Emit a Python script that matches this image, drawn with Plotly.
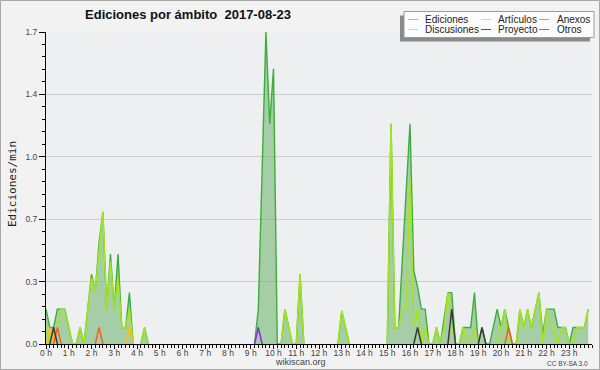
import plotly.graph_objects as go

# ---------------- data (10-minute steps, values in edits/min) ----------------
minutes = list(range(0, 1440, 10))

ediciones = [
    0.19, 0.09, 0.09, 0.19, 0.19, 0.19,   # 0 h
    0.09, 0, 0, 0.09, 0, 0.19,            # 1 h
    0.38, 0.29, 0.55, 0.72, 0.19, 0.49,   # 2 h
    0.19, 0.49, 0.09, 0.09, 0.28, 0,      # 3 h
    0, 0, 0.09, 0, 0, 0,                  # 4 h
    0, 0, 0, 0, 0, 0,                     # 5 h
    0, 0, 0, 0, 0, 0,                     # 6 h
    0, 0, 0, 0, 0, 0,                     # 7 h
    0, 0, 0, 0, 0, 0,                     # 8 h
    0, 0, 0.19, 0.95, 1.7, 1.2,           # 9 h
    1.5, 0, 0, 0.19, 0.09, 0,             # 10 h
    0, 0.38, 0, 0, 0, 0,                  # 11 h
    0, 0, 0, 0, 0, 0,                     # 12 h
    0.18, 0.09, 0, 0, 0, 0,               # 13 h
    0, 0, 0, 0, 0, 0,                     # 14 h
    0, 1.2, 0.09, 0.09, 0.47, 0.85,       # 15 h
    1.2, 0.4, 0.31, 0.19, 0.19, 0,        # 16 h
    0, 0.09, 0, 0.14, 0.28, 0.28,         # 17 h
    0, 0, 0.09, 0.09, 0.09, 0.28,         # 18 h
    0, 0.09, 0, 0, 0.09, 0.19,            # 19 h
    0.09, 0.19, 0.09, 0, 0, 0.19,         # 20 h
    0.09, 0.19, 0.09, 0.19, 0.28, 0.05,   # 21 h
    0.19, 0.19, 0.19, 0.09, 0.09, 0.09,   # 22 h
    0, 0.09, 0.09, 0.09, 0.09, 0.19,      # 23 h
]

articulos = [
    0.09, 0, 0, 0.09, 0.19, 0.19,
    0.09, 0, 0, 0.09, 0, 0.19,
    0.36, 0.29, 0.5, 0.72, 0.19, 0.45,
    0.19, 0.36, 0.09, 0.09, 0.19, 0,
    0, 0, 0.09, 0, 0, 0,
    0, 0, 0, 0, 0, 0,
    0, 0, 0, 0, 0, 0,
    0, 0, 0, 0, 0, 0,
    0, 0, 0, 0, 0, 0,
    0, 0, 0, 0, 0, 0,
    0, 0, 0, 0.19, 0.09, 0,
    0, 0.38, 0, 0, 0, 0,
    0, 0, 0, 0, 0, 0,
    0.18, 0.09, 0, 0, 0, 0,
    0, 0, 0, 0, 0, 0,
    0, 1.2, 0.09, 0.09, 0.19, 0.19,
    0.9, 0.09, 0.19, 0, 0.09, 0,
    0, 0.09, 0, 0.09, 0.28, 0.09,
    0, 0, 0.09, 0, 0, 0.09,
    0, 0, 0, 0, 0, 0,
    0.09, 0.19, 0, 0, 0, 0.19,
    0.09, 0.19, 0.09, 0.19, 0.28, 0,
    0.19, 0.09, 0.09, 0, 0.09, 0.09,
    0, 0, 0.09, 0.09, 0.09, 0.19,
]

# sparse small series: {10-minute index: value}
discusiones = {1: 0.09, 22: 0.09}
anexos = {3: 0.09, 14: 0.09, 122: 0.09}
proyecto = {2: 0.09, 98: 0.09, 107: 0.19, 115: 0.09}
otros = {56: 0.09}

series_names = ["Ediciones", "Artículos", "Anexos", "Discusiones", "Proyecto", "Otros"]
series_colors = {
    "Ediciones": "#3cae3c",
    "Artículos": "#a4e619",
    "Anexos": "#f0621e",
    "Discusiones": "#f2c318",
    "Proyecto": "#3a3a3a",
    "Otros": "#8a2be8",
}
legend_colors = {
    "Ediciones": "#86d686",
    "Artículos": "#c8f060",
    "Anexos": "#f58a58",
    "Discusiones": "#f7d64a",
    "Proyecto": "#555555",
    "Otros": "#9a55f0",
}

hour_ticks = [0, 60, 120, 180, 240, 300, 360, 420, 480, 540, 600, 660,
              720, 780, 840, 900, 960, 1020, 1080, 1140, 1200, 1260, 1320, 1380]
hour_labels = ["0 h", "1 h", "2 h", "3 h", "4 h", "5 h", "6 h", "7 h", "8 h", "9 h",
               "10 h", "11 h", "12 h", "13 h", "14 h", "15 h", "16 h", "17 h", "18 h",
               "19 h", "20 h", "21 h", "22 h", "23 h"]
y_ticks = [0, 0.34, 0.68, 1.02, 1.36, 1.7]
y_labels = ["0.0", "0.3", "0.7", "1.0", "1.4", "1.7"]

# ---------------- helpers ----------------
n = len(minutes)


def dense(sparse):
    return [sparse.get(i, 0) for i in range(n)]


def masked(vals):
    # hide long runs lying on the zero baseline (keep zero ends of each peak)
    out = []
    for i, v in enumerate(vals):
        left = vals[i - 1] if i > 0 else 0
        right = vals[i + 1] if i < n - 1 else 0
        out.append(None if (v == 0 and left == 0 and right == 0) else v)
    return out


W, H = 600, 370
ML, MR, MT, MB = 46, 8, 32, 26
PW, PH = W - ML - MR, H - MT - MB


def px(x):
    return (x - ML) / PW


def py(y):
    return (H - MB - y) / PH


SANS = "Liberation Sans, Arial, sans-serif"

fig = go.Figure()

fig.add_trace(go.Scatter(
    x=minutes, y=masked(ediciones), mode="lines", name="Ediciones",
    line=dict(color=series_colors["Ediciones"], width=1.4),
    fill="tozeroy", fillcolor="rgba(120,185,120,0.62)", showlegend=False,
    hoverinfo="skip"))

for name, vals in [("Artículos", articulos), ("Discusiones", dense(discusiones)),
                   ("Anexos", dense(anexos)), ("Proyecto", dense(proyecto)),
                   ("Otros", dense(otros))]:
    fig.add_trace(go.Scatter(
        x=minutes, y=masked(vals), mode="lines", name=name,
        line=dict(color=series_colors[name], width=1.5),
        showlegend=False, hoverinfo="skip"))

shapes = []
annotations = []

# outer frame
shapes.append(dict(type="rect", xref="paper", yref="paper",
                   x0=px(0.5), x1=px(W - 0.5), y0=py(H - 0.5), y1=py(0.5),
                   line=dict(color="#a8a8a8", width=1), layer="below"))

# legend box with shadow
lx0, lx1, ly0, ly1 = 404, 594, 11.5, 37.5
shapes.append(dict(type="rect", xref="paper", yref="paper",
                   x0=px(lx0 - 4), x1=px(lx1 - 4), y0=py(ly1 + 4), y1=py(ly0 + 4),
                   fillcolor="#8a8a8a", line=dict(width=0)))
shapes.append(dict(type="rect", xref="paper", yref="paper",
                   x0=px(lx0), x1=px(lx1), y0=py(ly1), y1=py(ly0),
                   fillcolor="#fcfcfc", line=dict(color="#9a9a9a", width=1)))

legend_cells = [
    ("Ediciones", 408, 423, 19.5), ("Artículos", 481, 496, 19.5), ("Anexos", 539, 555, 19.5),
    ("Discusiones", 408, 423, 29.5), ("Proyecto", 481, 496, 29.5), ("Otros", 539, 555, 29.5),
]
for name, sx, tx, cy in legend_cells:
    shapes.append(dict(type="line", xref="paper", yref="paper",
                       x0=px(sx), x1=px(sx + 10), y0=py(cy), y1=py(cy),
                       line=dict(color=legend_colors[name], width=1)))
    annotations.append(dict(text=name, xref="paper", yref="paper", x=px(tx), y=py(cy),
                            xanchor="left", yanchor="middle", showarrow=False,
                            font=dict(family=SANS, size=10, color="#222222")))

# axis title
annotations.append(dict(text="Ediciones/min", xref="paper", yref="paper",
                        x=px(12), y=py(184), textangle=-90, showarrow=False,
                        xanchor="center", yanchor="middle",
                        font=dict(family="DejaVu Sans Mono, monospace", size=11, color="#222222")))
# footer texts
annotations.append(dict(text="wikiscan.org", xref="paper", yref="paper",
                        x=px(300), y=py(362), showarrow=False, xanchor="center", yanchor="middle",
                        font=dict(family=SANS, size=9, color="#444444")))
annotations.append(dict(text="CC BY-SA 3.0", xref="paper", yref="paper",
                        x=px(590), y=py(363), showarrow=False, xanchor="right", yanchor="middle",
                        font=dict(family=SANS, size=6.5, color="#444444")))

fig.update_layout(
    width=W, height=H,
    margin=dict(l=ML, r=MR, t=MT, b=MB, pad=0),
    paper_bgcolor="#f2f2f2",
    plot_bgcolor="#eeeff1",
    title=dict(text="Ediciones por ámbito\u00a0\u00a02017-08-23",
               x=188 / W, xref="container", xanchor="center",
               y=1 - 14 / H, yref="container", yanchor="middle",
               font=dict(family=SANS, size=13, color="#111111", weight="bold")),
    xaxis=dict(range=[0, 1440], tickmode="array", tickvals=hour_ticks, ticktext=hour_labels,
               ticks="outside", ticklen=4, tickcolor="#000000", tickwidth=1,
               ticklabelstandoff=-3,
               showline=True, linecolor="#000000", linewidth=1,
               showgrid=False, zeroline=False, fixedrange=True,
               tickfont=dict(family=SANS, size=8.5, color="#444444"),
               minor=dict(tickmode="linear", tick0=0, dtick=10, ticks="outside",
                          ticklen=3, tickcolor="#000000", showgrid=False)),
    yaxis=dict(range=[0, 1.7], tickmode="array", tickvals=y_ticks, ticktext=y_labels,
               ticks="outside", ticklen=6, tickcolor="#000000", tickwidth=1,
               showline=True, linecolor="#000000", linewidth=1,
               showgrid=True, gridcolor="#cdcdcd", gridwidth=1, zeroline=False,
               fixedrange=True,
               tickfont=dict(family=SANS, size=8.5, color="#444444"),
               minor=dict(tickmode="linear", tick0=0, dtick=0.068, ticks="outside",
                          ticklen=3, tickcolor="#000000", showgrid=False)),
    shapes=shapes,
    annotations=annotations,
    showlegend=False,
)

fig.write_html("out.html", config={"displayModeBar": False},
               post_script="document.body.style.margin='0px';")
